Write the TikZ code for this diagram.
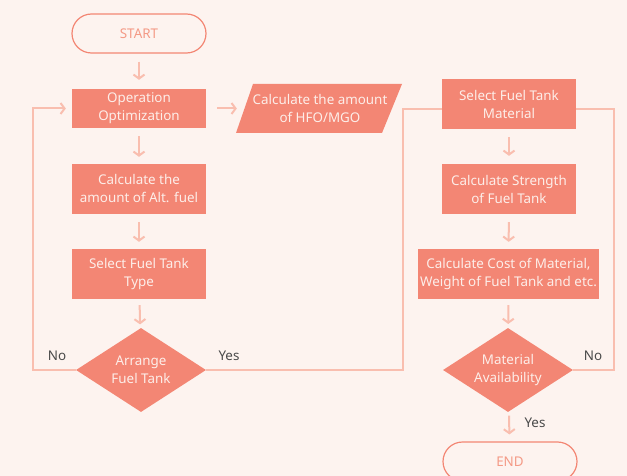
\documentclass[tikz,border=0pt]{standalone}
\usepackage{fontspec}
\setmainfont{Noto Sans}
\usetikzlibrary{arrows.meta,shapes.geometric}
\definecolor{bg}{HTML}{FDF3EF}
\definecolor{boxc}{HTML}{F38674}
\definecolor{arrc}{HTML}{F9BEAF}
\definecolor{boxtxt}{HTML}{FDEEE9}
\definecolor{lbl}{HTML}{4A4A4A}
\definecolor{termtxt}{HTML}{F49A86}
\tikzset{
  fnt/.style={font=\fontsize{13.4}{18}\selectfont},
  proc/.style={rectangle, fill=boxc, text=boxtxt, minimum width=134pt, minimum height=50pt, inner sep=0pt, align=center, fnt},
  term/.style={rectangle, rounded corners=19.5pt, draw=boxc, line width=1.2pt, fill=bg, text=termtxt, minimum width=134pt, minimum height=39pt, inner sep=0pt, fnt},
  dec/.style={diamond, fill=boxc, text=boxtxt, minimum width=130pt, minimum height=84pt, inner sep=0pt, aspect=1.55, align=center, fnt},
  txtc/.style={text=boxtxt, align=center, inner sep=0pt, minimum width=150pt, minimum height=40pt, fnt},
  conn/.style={draw=arrc, line width=2pt},
  arr/.style={conn, -{Straight Barb[length=4pt,width=11pt,line width=2pt]}},
  lab/.style={text=lbl, inner sep=0pt, fnt},
}
\begin{document}
\begin{tikzpicture}[x=1pt,y=-1pt]
\fill[bg] (0,0) rectangle (627,476);
\useasboundingbox (0,0) rectangle (627,476);
\begin{scope}
\clip (0,0) rectangle (627,476);
% nodes
\node[term] (start) at (139,33.5) {START};
\node[proc, minimum height=39pt] (opt) at (139,108.5) {Operation\\Optimization};
\fill[boxc] (236,133) -- (253,84) -- (402,84) -- (382,133) -- cycle;
\node[txtc] (hfo) at (320,108.5) {Calculate the amount\\of HFO/MGO};
\node[proc] (alt) at (139,189) {Calculate the\\amount of Alt. fuel};
\node[proc] (type) at (139,274) {Select Fuel Tank\\Type};
\node[dec] (d1) at (141,370) {Arrange\\Fuel Tank};
\node[proc] (mat) at (509,104) {Select Fuel Tank\\Material};
\node[proc] (str) at (509,189) {Calculate Strength\\of Fuel Tank};
\node[proc, minimum width=181pt] (cost) at (508.5,274) {Calculate Cost of Material,\\Weight of Fuel Tank and etc.};
\node[dec] (d2) at (508,370) {Material\\Availability};
\node[term] (end) at (510,461.5) {END};
% short arrows
\draw[arr, shorten <=8pt, shorten >=9pt] (start) -- (opt);
\draw[arr, shorten <=11pt, shorten >=8pt] (opt.east) -- (hfo.west);
\draw[arr, shorten <=8pt, shorten >=7pt] (opt) -- (alt);
\draw[arr, shorten <=8pt, shorten >=7pt] (alt) -- (type);
\draw[arr, shorten <=6pt, shorten >=4pt] (type) -- (d1);
\draw[arr, shorten <=8pt, shorten >=8pt] (mat) -- (str);
\draw[arr, shorten <=8pt, shorten >=7pt] (str) -- (cost);
\draw[arr, shorten <=6pt, shorten >=4pt] (cost) -- (d2);
\draw[arr, shorten <=4pt, shorten >=7pt] (d2) -- (end);
% loops
\coordinate (lx) at (33,370);
\draw[arr, shorten >=6pt] (d1.west) -- (lx) |- (opt.west);
\coordinate (yt) at (403,109);
\draw[conn] (d1.east) -| (yt) -- (yt -| mat.west);
\coordinate (rt) at (614,109);
\draw[conn] (d2.east) -| (rt) -- (rt -| mat.east);
% labels
\node[lab] (no1) at (57,356) {No};
\node[lab] (yes1) at (229,356) {Yes};
\node[lab] (no2) at (593,356) {No};
\node[lab] (yes2) at (535,423) {Yes};
\end{scope}
\end{tikzpicture}
\end{document}
